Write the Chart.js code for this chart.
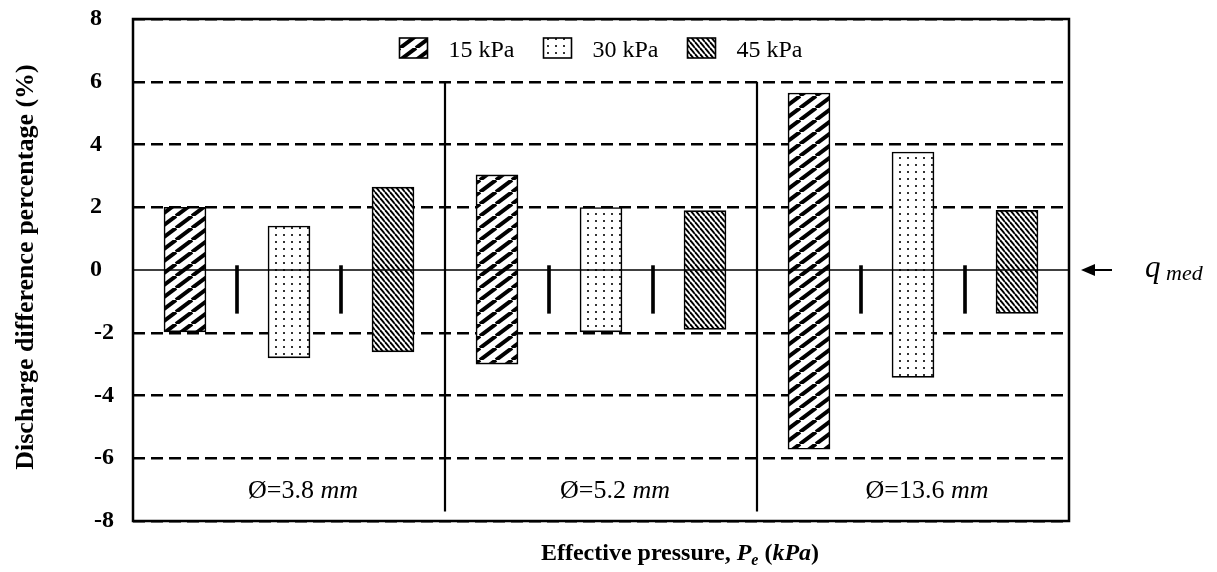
<!DOCTYPE html>
<html>
<head>
<meta charset="utf-8">
<title>Discharge difference percentage</title>
<script src="https://cdn.jsdelivr.net/npm/chart.js@4.4.1/dist/chart.umd.min.js"></script>
<style>
  html, body { margin: 0; padding: 0; background: #fff; }
</style>
</head>
<body>
<canvas id="dischargeChart" width="1217" height="572"></canvas>
<script>
// Orifice diameters (mm) - one group of bars each
const diameters = ['3.8', '5.2', '13.6'];
const pressures = ['15 kPa', '30 kPa', '45 kPa'];

// Min / max discharge difference (%) per diameter
const low15 = [-1.97, -3.0, -5.71];
const high15 = [2.0, 3.03, 5.64];
const low30 = [-2.8, -1.97, -3.42];
const high30 = [1.4, 1.99, 3.76];
const low45 = [-2.61, -1.89, -1.38];
const high45 = [2.64, 1.89, 1.9];

// short separators between the bars of a group
const markerLow = [-1.38, -1.38, -1.38];
const markerHigh = [0.14, 0.14, 0.14];

const yTicks = { min: -8, max: 8, step: 2 };

const SERIF = '"Liberation Serif", "Times New Roman", serif';
const SLOTS = 6; // slots per diameter group on the x axis

const canvas = document.getElementById('dischargeChart');
const ctx = canvas.getContext('2d');

function tile(w, h, draw) {
  const c = document.createElement('canvas');
  c.width = w; c.height = h;
  const g = c.getContext('2d');
  g.fillStyle = '#fff';
  g.fillRect(0, 0, w, h);
  draw(g, w, h);
  return ctx.createPattern(c, 'repeat');
}

// wide "/" hatching
const hatch15 = tile(16, 12, (g, w, h) => {
  g.strokeStyle = '#000';
  g.lineWidth = 4;
  for (let k = -1; k <= 1; k++) {
    g.beginPath();
    g.moveTo(k * w, h);
    g.lineTo(k * w + w, 0);
    g.stroke();
  }
});

// dotted fill
const dots30 = tile(8, 7, (g) => {
  g.fillStyle = '#333';
  g.fillRect(3, 3, 2, 2);
});

// dense "\" hatching
const hatch45 = tile(5, 6, (g, w, h) => {
  g.strokeStyle = '#000';
  g.lineWidth = 1.9;
  for (let k = -1; k <= 1; k++) {
    g.beginPath();
    g.moveTo(k * w, 0);
    g.lineTo(k * w + w, h);
    g.stroke();
  }
});

const fills = [hatch15, dots30, hatch45];
const lows = [low15, low30, low45];
const highs = [high15, high30, high45];

const barSets = pressures.map((label, s) => ({
  type: 'bar',
  label,
  data: diameters.map((d, i) => ({ x: i * SLOTS + 1 + 2 * s, y: [lows[s][i], highs[s][i]] })),
  backgroundColor: fills[s],
  borderColor: '#000',
  borderWidth: 1.6,
  borderSkipped: false,
  barThickness: 42,
  grouped: false,
  order: 2
}));

const markerData = [];
diameters.forEach((d, i) => {
  markerData.push({ x: i * SLOTS + 2, y: [markerLow[i], markerHigh[i]] });
  markerData.push({ x: i * SLOTS + 4, y: [markerLow[i], markerHigh[i]] });
});

const lineStyle = { type: 'line', borderColor: '#000', pointRadius: 0, fill: false, order: 0 };

const datasets = [
  ...barSets,
  {
    type: 'bar', label: 'marker', data: markerData,
    backgroundColor: '#000', borderWidth: 0, barThickness: 3, grouped: false, order: 1
  },
  // q med reference line
  { ...lineStyle, label: 'qmed', data: [{ x: 0, y: 0 }, { x: SLOTS * diameters.length, y: 0 }], borderWidth: 1.3 },
  // group dividers
  { ...lineStyle, label: 'div1', data: [{ x: SLOTS, y: 6 }, { x: SLOTS, y: -7.7 }], borderWidth: 2.2 },
  { ...lineStyle, label: 'div2', data: [{ x: 2 * SLOTS, y: 6 }, { x: 2 * SLOTS, y: -7.7 }], borderWidth: 2.2 }
];

function drawRuns(c, x, y, runs) {
  runs.forEach(r => {
    c.font = r.font;
    c.fillText(r.text, x, y + (r.dy || 0));
    x += c.measureText(r.text).width;
  });
}

function runsWidth(c, runs) {
  return runs.reduce((w, r) => { c.font = r.font; return w + c.measureText(r.text).width; }, 0);
}

const decorations = {
  id: 'decorations',
  afterDraw(chart) {
    const c = chart.ctx;
    const { left, right, top, bottom } = chart.chartArea;
    const xs = chart.scales.x;
    const ys = chart.scales.y;
    c.save();

    // plot frame
    c.strokeStyle = '#000';
    c.lineWidth = 2.5;
    c.strokeRect(left, top, right - left, bottom - top);

    c.fillStyle = '#000';
    c.textBaseline = 'alphabetic';
    c.textAlign = 'left';

    // legend inside the plot
    const legendFont = '24px ' + SERIF;
    c.font = legendFont;
    const boxW = 28, boxH = 20, gapText = 21, gapItem = 29;
    const widths = pressures.map(p => boxW + gapText + c.measureText(p).width);
    const total = widths.reduce((a, b) => a + b, 0) + gapItem * (widths.length - 1);
    let lx = (left + right) / 2 - total / 2;
    chart.data.datasets.slice(0, pressures.length).forEach((ds, i) => {
      c.fillStyle = ds.backgroundColor;
      c.fillRect(lx, 38, boxW, boxH);
      c.strokeStyle = '#000';
      c.lineWidth = 1.6;
      c.strokeRect(lx, 38, boxW, boxH);
      c.fillStyle = '#000';
      c.font = legendFont;
      c.fillText(ds.label, lx + boxW + gapText, 57);
      lx += widths[i] + gapItem;
    });

    // diameter labels
    diameters.forEach((d, i) => {
      const runs = [
        { text: 'Ø=' + d + ' ', font: '26px ' + SERIF },
        { text: 'mm', font: 'italic 26px ' + SERIF }
      ];
      const cx = xs.getPixelForValue(i * SLOTS + SLOTS / 2) + 14;
      drawRuns(c, cx - runsWidth(c, runs) / 2, ys.getPixelForValue(-7) + 8, runs);
    });

    // q med arrow
    const y0 = ys.getPixelForValue(0);
    c.lineWidth = 2;
    c.beginPath();
    c.moveTo(1112, y0);
    c.lineTo(1090, y0);
    c.stroke();
    c.beginPath();
    c.moveTo(1081, y0);
    c.lineTo(1095, y0 - 6);
    c.lineTo(1095, y0 + 6);
    c.closePath();
    c.fill();
    drawRuns(c, 1145, y0 + 7, [
      { text: 'q', font: 'italic 31px ' + SERIF },
      { text: ' med', font: 'italic 22px ' + SERIF, dy: 3 }
    ]);

    // x axis title
    const xRuns = [
      { text: 'Effective pressure, ', font: 'bold 24px ' + SERIF },
      { text: 'P', font: 'bold italic 24px ' + SERIF },
      { text: 'e', font: 'bold italic 16px ' + SERIF, dy: 5 },
      { text: ' (', font: 'bold 24px ' + SERIF },
      { text: 'kPa', font: 'bold italic 24px ' + SERIF },
      { text: ')', font: 'bold 24px ' + SERIF }
    ];
    drawRuns(c, 680 - runsWidth(c, xRuns) / 2, 560, xRuns);

    // y axis title
    c.translate(33, (top + bottom) / 2 - 3);
    c.rotate(-Math.PI / 2);
    c.font = 'bold 26px ' + SERIF;
    c.textAlign = 'center';
    c.fillText('Discharge difference percentage (%)', 0, 0);

    c.restore();
  }
};

new Chart(ctx, {
  type: 'bar',
  data: { datasets },
  options: {
    responsive: false,
    animation: false,
    layout: { padding: { left: 0, right: 148, top: 19, bottom: 51 } },
    plugins: {
      legend: { display: false },
      tooltip: { enabled: false }
    },
    scales: {
      x: {
        type: 'linear',
        display: false,
        offset: false,
        min: 0,
        max: SLOTS * diameters.length
      },
      y: {
        min: yTicks.min,
        max: yTicks.max,
        afterFit: s => {
          s.width = 133;
          // outer padding is set by the layout, not by the tick labels
          s.paddingTop = 0;
          s.paddingBottom = 0;
        },
        ticks: {
          stepSize: yTicks.step,
          padding: 19,
          color: '#000',
          font: { family: SERIF, size: 24, weight: 'bold' },
          callback: v => v < 0 ? String(v) : v + '\u2002'
        },
        grid: {
          drawTicks: false,
          lineWidth: 2.5,
          color: c => c.tick && c.tick.value === 0 ? 'rgba(0,0,0,0)' : '#000'
        },
        border: { display: false, dash: [12, 6] }
      }
    }
  },
  plugins: [decorations]
});
</script>
</body>
</html>
